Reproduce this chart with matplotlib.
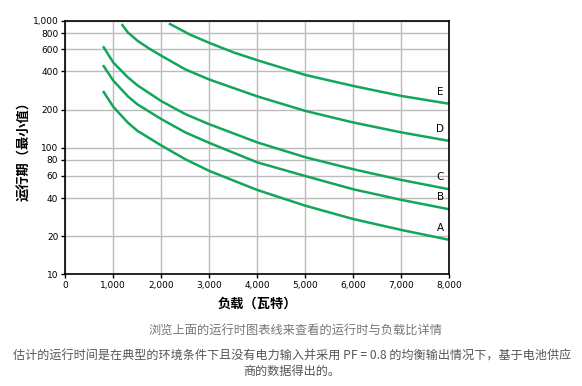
import matplotlib.pyplot as plt
from matplotlib.ticker import FixedLocator, FuncFormatter, NullLocator

plt.rcParams['font.family'] = ['Noto Sans CJK SC', 'DejaVu Sans']

# === Runtime data (load in W, runtime in min) ===
load_abc = [800, 1000, 1300, 1500, 2000, 2500, 3000, 4000, 5000, 6000, 7000, 8000]
run_a = [275, 210, 158, 136, 104, 81, 65.5, 46.3, 34.8, 27.3, 22.4, 18.7]
run_b = [440, 338, 255, 220, 168, 132, 109, 76.5, 59.7, 46.9, 38.7, 32.6]
run_c = [620, 470, 360, 311, 233, 184, 153, 110, 84, 67.5, 55.6, 46.9]
load_d = [1190, 1300, 1500, 1750, 2000, 2500, 3000, 4000, 5000, 6000, 7000, 8000]
run_d = [928, 815, 700, 605, 532, 415, 345, 254, 195, 158, 132, 113]
load_e = [2180, 2600, 3000, 3500, 4000, 5000, 6000, 7000, 8000]
run_e = [947, 780, 672, 566, 490, 375, 307, 256, 222]

series_names = ["A", "B", "C", "D", "E"]
x_ticks = [0, 1000, 2000, 3000, 4000, 5000, 6000, 7000, 8000]
y_ticks = [10, 20, 40, 60, 80, 100, 200, 400, 600, 800, 1000]

x_label = "负载（瓦特）"
y_label = "运行期（最小值）"
caption = "浏览上面的运行时图表线来查看的运行时与负载比详情"
note = ("估计的运行时间是在典型的环境条件下且没有电力输入并采用 PF = 0.8 的均衡输出情况下，基于电池供应\n"
        "商的数据得出的。")

# === Plot ===
fig = plt.figure(figsize=(5.82, 3.86), dpi=100)
ax = fig.add_axes([0.1122, 0.2894, 0.6598, 0.6562])

green = '#13A65A'
all_x = [load_abc, load_abc, load_abc, load_d, load_e]
all_y = [run_a, run_b, run_c, run_d, run_e]
for xs, ys, name in zip(all_x, all_y, series_names):
    ax.plot(xs, ys, color=green, linewidth=1.8, solid_joinstyle='round')
    ax.annotate(name, xy=(8000, ys[-1]), xytext=(-4, 5), textcoords='offset points',
                ha='right', va='bottom', fontsize=7.5, family='DejaVu Sans')

ax.set_yscale('log')
ax.set_xlim(0, 8000)
ax.set_ylim(10, 1000)
ax.xaxis.set_major_locator(FixedLocator(x_ticks))
ax.yaxis.set_major_locator(FixedLocator(y_ticks))
ax.yaxis.set_minor_locator(NullLocator())
fmt = FuncFormatter(lambda v, p: f"{v:,.0f}")
ax.xaxis.set_major_formatter(fmt)
ax.yaxis.set_major_formatter(fmt)
for lab in ax.get_xticklabels() + ax.get_yticklabels():
    lab.set_family('DejaVu Sans')
ax.tick_params(labelsize=6.5, length=3, width=1, pad=2, color='black')
ax.grid(True, color='#BBBBBB', linewidth=1)
ax.set_axisbelow(True)
for s in ax.spines.values():
    s.set_linewidth(1.2)
    s.set_color('black')

ax.set_xlabel(x_label, fontsize=9.5, fontweight='bold', labelpad=5)
ax.set_ylabel(y_label, fontsize=9.5, fontweight='bold', labelpad=1)

fig.text(0.508, 0.145, caption, ha='center', va='center', fontsize=8.8,
         style='italic', color='#777777')
fig.text(0.502, 0.058, note, ha='center', va='center', fontsize=8.7,
         color='#555555', linespacing=1.3)

fig.savefig('out.png', dpi=100)
